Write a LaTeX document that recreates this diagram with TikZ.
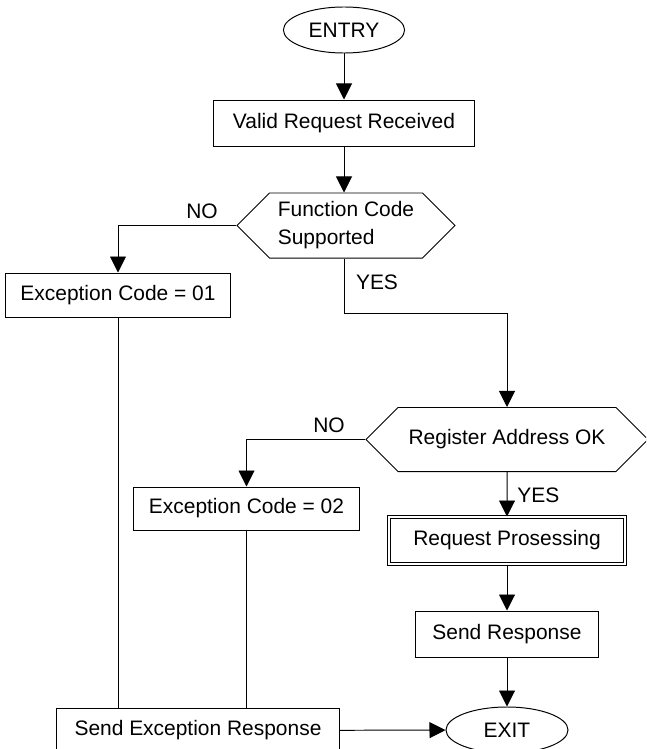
\documentclass[tikz,border=0pt]{standalone}
\usepackage{fontspec}
\setmainfont{Liberation Sans}
\usepackage{tikz}
\usetikzlibrary{shapes.geometric,shapes.symbols,arrows.meta}
\def\px{0.025cm}
\tikzstyle{arrow} = [line width=0.7pt,-{Triangle[width=0.4cm,length=0.4cm]}]

\begin{document}
\begin{tikzpicture}[x=\px,y=-\px,line width=0.7pt,font=\fontsize{14.9}{20}\selectfont]
    \tikzstyle{box}=[draw,rectangle,inner sep=0pt]
    \tikzstyle{term}=[draw,ellipse,inner sep=0pt]
    \tikzstyle{test}=[draw,signal,signal to=west and east,signal pointer angle=90,inner sep=0pt]
    \tikzstyle{proc}=[box,double,double distance=1.5pt]
    \tikzstyle{lbl}=[inner sep=0pt]

    \clip (0,0) rectangle (646,749);

    % Draw the main column
    \path node[term,minimum width=3.03cm,minimum height=1.15cm] (entry) at (344,30) {ENTRY};
    \path node[box,minimum width=6.5cm,minimum height=1.15cm] (valid) at (344,123) {Valid Request Received};
    \path node[test,minimum width=5.45cm,minimum height=1.625cm,align=left] (func) at (346,225.5) {Function Code\\Supported};

    % Draw the exception boxes
    \path node[box,minimum width=5.6cm,minimum height=1.1cm] (exc1) at (118,295) {Exception Code = 01};
    \path node[box,minimum width=5.625cm,minimum height=1.075cm] (exc2) at (246.5,508.5) {Exception Code = 02};
    \path node[box,minimum width=7.05cm,minimum height=1.125cm] (sendexc) at (198,730.5) {Send Exception Response};

    % Draw the right column
    \path node[test,minimum width=7.05cm,minimum height=1.6cm] (reg) at (507,439.5) {Register Address OK};
    \path node[proc,minimum width=5.9cm,minimum height=1.175cm] (work) at (507,540.5) {Request Prosessing};
    \path node[box,minimum width=4.575cm,minimum height=1.15cm] (send) at (507,634) {Send Response};
    \path node[term,minimum width=3.05cm,minimum height=1.15cm] (exit) at (507,730) {EXIT};

    % Labels
    \path node[lbl] (no-1) at (202,211) {NO};
    \path node[lbl] (yes-1) at (377,282) {YES};
    \path node[lbl] (no-2) at (329,425) {NO};
    \path node[lbl,anchor=west] (yes-2) at (517,495) {YES};

    \coordinate (turn) at (507,313);

    % Connectors
    \draw[arrow] (entry) -- (valid);
    \draw[arrow] (valid.south) -- (valid.south |- func.north);
    \draw[arrow] (func.west) -| (exc1.north);
    \draw (func.south -| valid.south) |- (turn);
    \draw[arrow] (turn) -- (reg.north);
    \draw[arrow] (reg.west) -| (exc2.north);
    \draw[arrow] (reg) -- (work);
    \draw[arrow] (work) -- (send);
    \draw[arrow] (send) -- (exit);
    \draw (exc1.south) -- (exc1.south |- sendexc.north);
    \draw (exc2.south) -- (exc2.south |- sendexc.north);
    \draw[arrow] (sendexc) -- (exit);
\end{tikzpicture}
\end{document}
